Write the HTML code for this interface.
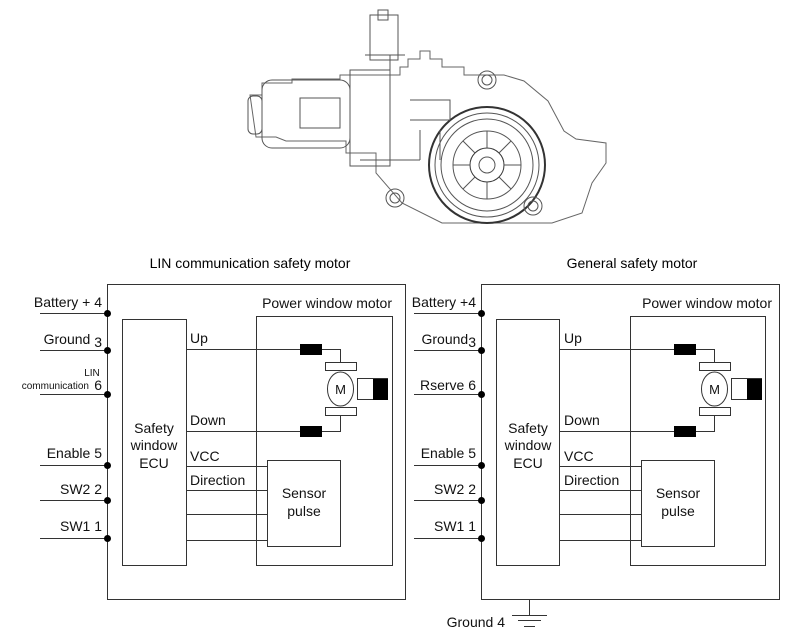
<!DOCTYPE html>
<html><head><style>
html,body{margin:0;padding:0;background:#fff;}
svg{display:block;font-family:"Liberation Sans",Arial,sans-serif;}
</style></head><body>
<svg width="791" height="639" viewBox="0 0 791 639" xmlns="http://www.w3.org/2000/svg">
<!-- motor illustration -->
<g fill="none" stroke="#555" stroke-width="1">
  <path d="M250 95 h12 v-12 h30 v-4 h48 v-4 h60 v-8 h8 v-8 h12 v-8 h10 v8 h12 v8 h22 v8 h40 l20 6 l24 20 l16 30 l12 8 l30 4 v20 l-14 20 l-10 30 l-30 10 h-110 l-40 -20 l-26 -30 v-20 h-30 v-12 h-60 l-10 -4 h-20 z" fill="#fff" stroke="#666"/>
  <rect x="248" y="96" width="14" height="38" rx="5"/>
  <rect x="262" y="80" width="88" height="68" rx="10"/>
  <rect x="300" y="98" width="40" height="30"/>
  <rect x="350" y="70" width="40" height="96"/>
  <rect x="370" y="15" width="28" height="45"/>
  <rect x="378" y="10" width="10" height="10"/>
  <path d="M365 55 h40 M390 55 v25"/>
  <circle cx="487" cy="165" r="58" stroke="#333" stroke-width="2"/>
  <circle cx="487" cy="165" r="52"/>
  <circle cx="487" cy="165" r="46"/>
  <circle cx="487" cy="165" r="34"/>
  <circle cx="487" cy="165" r="17" stroke="#333"/>
  <circle cx="487" cy="165" r="8"/>
  <path d="M487 131v17M487 182v17M453 165h17M504 165h17M463 141l12 12M499 177l12 12M463 189l12-12M499 153l12-12"/>
  <circle cx="487" cy="80" r="9"/><circle cx="487" cy="80" r="5"/>
  <circle cx="395" cy="198" r="9"/><circle cx="395" cy="198" r="5"/>
  <circle cx="533" cy="206" r="9"/><circle cx="533" cy="206" r="5"/>
  <path d="M410 100 h40 v20 h-40 M420 130 v30 M440 130 v30 M360 160 h60"/>
</g>

<!-- titles -->
<text x="250" y="268" font-size="14" text-anchor="middle">LIN communication safety motor</text>
<text x="632" y="268" font-size="14" text-anchor="middle">General safety motor</text>

<!-- left diagram -->
<g stroke="#333" stroke-width="1" fill="none">
  <rect x="107.5" y="284.5" width="298" height="315"/>
  <rect x="122.5" y="319.5" width="64" height="246"/>
  <rect x="256.5" y="316.5" width="136" height="249"/>
  <rect x="267.5" y="460.5" width="73" height="86" fill="#fff"/>
  <path d="M40 313.5h67M40 350.5h67M40 394.5h67M40 465.5h67M40 500.5h67M40 538.5h67"/>
  <path d="M186 349.5h114M322 349.5h18.5v13M186 431.5h114M322 431.5h18.5v-16"/>
  <path d="M186 466.5h81M186 490.5h81M186 514.5h81M186 540.5h81"/>
  <rect x="325.5" y="362.5" width="31" height="8"/>
  <rect x="325.5" y="407.5" width="31" height="8"/>
  <ellipse cx="340.5" cy="389" rx="13" ry="17"/>
  <rect x="357.5" y="378.5" width="30" height="21"/>
</g>
<g fill="#000">
  <rect x="300" y="344" width="22" height="11"/>
  <rect x="300" y="426" width="22" height="11"/>
  <rect x="373" y="379" width="15" height="21"/>
  <circle cx="107.5" cy="313.5" r="3.5"/><circle cx="107.5" cy="350.5" r="3.5"/><circle cx="107.5" cy="394.5" r="3.5"/>
  <circle cx="107.5" cy="465.5" r="3.5"/><circle cx="107.5" cy="500.5" r="3.5"/><circle cx="107.5" cy="538.5" r="3.5"/>
</g>
<g font-size="14" fill="#111">
  <text x="102" y="307" text-anchor="end">Battery + 4</text>
  <text x="102" y="344" text-anchor="end">Ground <tspan dy="3">3</tspan></text>
  <text x="92" y="376" font-size="10" text-anchor="middle">LIN</text>
  <text x="89" y="389" font-size="10" text-anchor="end">communication</text>
  <text x="102" y="390" text-anchor="end">6</text>
  <text x="102" y="458" text-anchor="end">Enable 5</text>
  <text x="102" y="494" text-anchor="end">SW2 2</text>
  <text x="102" y="531" text-anchor="end">SW1 1</text>
  <text x="392" y="308" text-anchor="end">Power window motor</text>
  <text x="190" y="343">Up</text>
  <text x="190" y="425">Down</text>
  <text x="190" y="461">VCC</text>
  <text x="190" y="485">Direction</text>
  <text x="154" y="433" text-anchor="middle">Safety</text>
  <text x="154" y="450" text-anchor="middle">window</text>
  <text x="154" y="468" text-anchor="middle">ECU</text>
  <text x="304" y="498" text-anchor="middle">Sensor</text>
  <text x="304" y="516" text-anchor="middle">pulse</text>
  <text x="340.5" y="394" font-size="13" text-anchor="middle">M</text>
</g>

<!-- right diagram -->
<g transform="translate(374,0)">
<g stroke="#333" stroke-width="1" fill="none">
  <rect x="107.5" y="284.5" width="298" height="315"/>
  <rect x="122.5" y="319.5" width="63" height="246"/>
  <rect x="256.5" y="316.5" width="135" height="249"/>
  <rect x="267.5" y="460.5" width="73" height="86" fill="#fff"/>
  <path d="M40 313.5h67M40 350.5h67M40 394.5h67M40 465.5h67M40 500.5h67M40 538.5h67"/>
  <path d="M186 349.5h114M322 349.5h18.5v13M186 431.5h114M322 431.5h18.5v-16"/>
  <path d="M186 466.5h81M186 490.5h81M186 514.5h81M186 540.5h81"/>
  <rect x="325.5" y="362.5" width="31" height="8"/>
  <rect x="325.5" y="407.5" width="31" height="8"/>
  <ellipse cx="340.5" cy="389" rx="13" ry="17"/>
  <rect x="357.5" y="378.5" width="30" height="21"/>
  <path d="M155.5 600v15M138 615.5h35M144 620.5h23M150 626.5h11"/>
</g>
<g fill="#000">
  <rect x="300" y="344" width="22" height="11"/>
  <rect x="300" y="426" width="22" height="11"/>
  <rect x="373" y="379" width="15" height="21"/>
  <circle cx="107.5" cy="313.5" r="3.5"/><circle cx="107.5" cy="350.5" r="3.5"/><circle cx="107.5" cy="394.5" r="3.5"/>
  <circle cx="107.5" cy="465.5" r="3.5"/><circle cx="107.5" cy="500.5" r="3.5"/><circle cx="107.5" cy="538.5" r="3.5"/>
</g>
<g font-size="14" fill="#111">
  <text x="102" y="307" text-anchor="end">Battery +4</text>
  <text x="102" y="344" text-anchor="end">Ground<tspan dy="3">3</tspan></text>
  <text x="102" y="390" text-anchor="end">Rserve 6</text>
  <text x="102" y="458" text-anchor="end">Enable 5</text>
  <text x="102" y="494" text-anchor="end">SW2 2</text>
  <text x="102" y="531" text-anchor="end">SW1 1</text>
  <text x="398" y="308" text-anchor="end">Power window motor</text>
  <text x="190" y="343">Up</text>
  <text x="190" y="425">Down</text>
  <text x="190" y="461">VCC</text>
  <text x="190" y="485">Direction</text>
  <text x="154" y="433" text-anchor="middle">Safety</text>
  <text x="154" y="450" text-anchor="middle">window</text>
  <text x="154" y="468" text-anchor="middle">ECU</text>
  <text x="304" y="498" text-anchor="middle">Sensor</text>
  <text x="304" y="516" text-anchor="middle">pulse</text>
  <text x="340.5" y="394" font-size="13" text-anchor="middle">M</text>
  <text x="131" y="627" text-anchor="end">Ground 4</text>
</g>
</g>
</svg>
</body></html>
